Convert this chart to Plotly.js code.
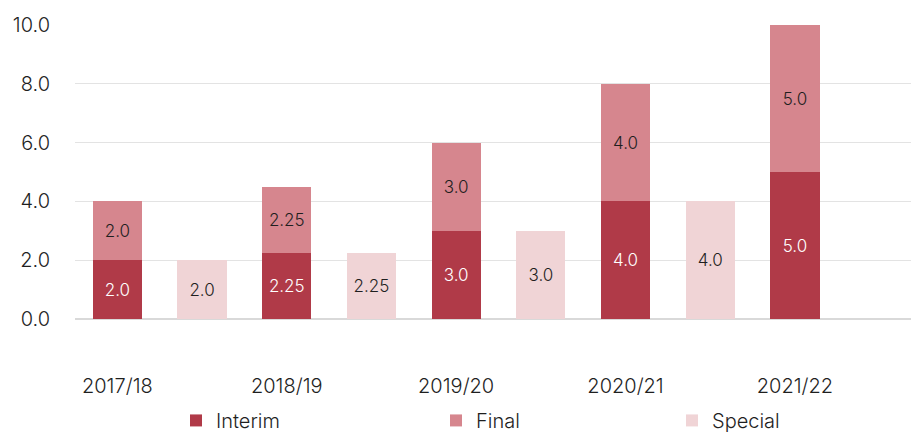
<!DOCTYPE html>
<html>
<head>
<meta charset="utf-8">
<script src="https://cdn.plot.ly/plotly-3.0.1.min.js"></script>
<style>html,body{margin:0;padding:0;background:#fff;}#chart{width:911px;height:432px;}</style>
</head>
<body>
<div id="chart"></div>
<script>
const years = ["2017/18", "2018/19", "2019/20", "2020/21", "2021/22"];
const specialSlots = ["2017/18 special", "2018/19 special", "2019/20 special", "2020/21 special", "2021/22 special"];
const interim = [2.0, 2.25, 3.0, 4.0, 5.0];
const interimLabels = ["2.0", "2.25", "3.0", "4.0", "5.0"];
const finalDiv = [2.0, 2.25, 3.0, 4.0, 5.0];
const finalLabels = ["2.0", "2.25", "3.0", "4.0", "5.0"];
const specialYears = ["2017/18 special", "2018/19 special", "2019/20 special", "2020/21 special"];
const special = [2.0, 2.25, 3.0, 4.0];
const specialLabels = ["2.0", "2.25", "3.0", "4.0"];
const yTicks = [0, 2, 4, 6, 8, 10];

const categoryOrder = [];
years.forEach((y, i) => { categoryOrder.push(y, specialSlots[i]); });

const FONT = "Inter, 'Open Sans', sans-serif";
const DARK = "#1f1f1f";
const W = 300;

const traces = [
  {type: "bar", name: "Interim", x: years, y: interim, text: interimLabels,
   marker: {color: "#B03A48"}, textposition: "inside", insidetextanchor: "middle",
   textangle: 0, constraintext: "none",
   textfont: {color: "#ffffff", size: 17, family: FONT, weight: W}, hoverinfo: "none", legend: "legend"},
  {type: "bar", name: "Final", x: years, y: finalDiv, text: finalLabels,
   marker: {color: "#D6868E"}, textposition: "inside", insidetextanchor: "middle",
   textangle: 0, constraintext: "none",
   textfont: {color: DARK, size: 17, family: FONT, weight: W}, hoverinfo: "none", legend: "legend2"},
  {type: "bar", name: "Special", x: specialYears, y: special, text: specialLabels,
   marker: {color: "#F0D4D6"}, textposition: "inside", insidetextanchor: "middle",
   textangle: 0, constraintext: "none",
   textfont: {color: DARK, size: 17, family: FONT, weight: W}, hoverinfo: "none", legend: "legend3"}
];

const legendBase = {orientation: "h", yanchor: "middle", y: -0.345, xanchor: "left",
  font: {family: FONT, size: 20, color: DARK, weight: W}, bgcolor: "rgba(0,0,0,0)"};

const layout = {
  width: 911, height: 432,
  margin: {l: 75, r: 0, t: 25, b: 113, autoexpand: false},
  paper_bgcolor: "#ffffff", plot_bgcolor: "#ffffff",
  font: {family: FONT, color: DARK, size: 19, weight: W},
  barmode: "stack",
  bargap: 0.42,
  showlegend: true,
  xaxis: {type: "category", categoryorder: "array", categoryarray: categoryOrder,
    tickvals: years, ticktext: years, range: [-0.5, 9.37], automargin: false,
    showgrid: false, zeroline: false, showline: false, ticks: "",
    ticklabelstandoff: 53, tickfont: {family: FONT, size: 20, color: DARK, weight: W}},
  yaxis: {range: [0, 10], tickvals: yTicks, tickformat: ".1f", automargin: false,
    showgrid: true, gridcolor: "#e3e3e3", gridwidth: 1,
    zeroline: true, zerolinecolor: "#d9d9d9", zerolinewidth: 2,
    showline: false, ticks: "", ticklabelstandoff: 24,
    tickfont: {family: FONT, size: 20, color: DARK, weight: W}},
  legend: Object.assign({}, legendBase, {x: (176 - 75) / 836}),
  legend2: Object.assign({}, legendBase, {x: (436 - 75) / 836}),
  legend3: Object.assign({}, legendBase, {x: (672 - 75) / 836})
};

Plotly.newPlot("chart", traces, layout, {displayModeBar: false, staticPlot: true});
</script>
</body>
</html>
